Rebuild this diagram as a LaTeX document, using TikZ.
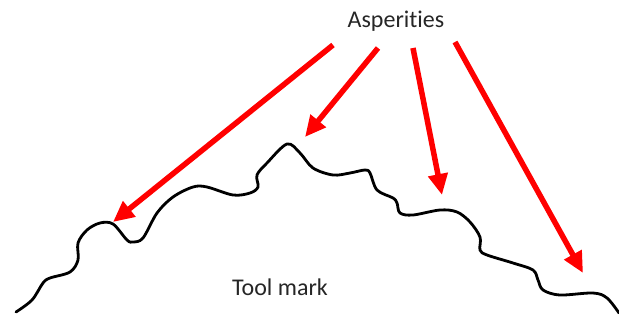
\documentclass[tikz,border=0pt]{standalone}
\usepackage{fontspec}
\setmainfont[Ligatures={NoCommon}]{Carlito}
\usepackage{tikz}
\usetikzlibrary{arrows.meta}
\definecolor{okKirmizi}{HTML}{FF0000}

\begin{document}
\begin{tikzpicture}[x=1pt,y=-1pt,
  pointer/.style={okKirmizi,line width=5.5pt,-{Triangle[length=21pt,width=19pt]}},
  profile/.style={black,line width=2.8pt,line cap=round,line join=round},
  lbltext/.style={font=\fontsize{24}{28}\selectfont,text=black!85}]
\useasboundingbox (0,0) rectangle (619,327);
% tool mark surface
\draw[profile] plot[smooth,tension=0.55] coordinates {
  (16,312) (32,300) (43,283) (50,278) (70,272) (78,260) (78,243) (87,230)
  (100,223) (113,224) (127,240) (133,242) (143,238) (157,213) (173,197)
  (193,187) (207,187) (233,195) (250,193) (258,187) (257,175) (267,163)
  (287,144) (300,153) (313,168) (333,175) (350,173) (365,170) (370,173)
  (377,190) (393,198) (397,203) (400,213) (413,215) (440,210) (457,212)
  (470,222) (480,237) (480,250) (487,255) (513,263) (533,270) (538,280)
  (543,290) (560,295) (593,293) (607,298) (619,313)};
\node[lbltext] (lbl) at (396,21) {Asperities};
\node[lbltext] (tm) at (280,287) {Tool mark};
% arrow ends
\coordinate (s1) at (333,45);
\coordinate (s2) at (378,48);
\coordinate (s3) at (413,48);
\coordinate (s4) at (455,42);
\coordinate (p1) at (113,222);
\coordinate (p2) at (305,137);
\coordinate (p3) at (442,195);
\coordinate (p4) at (583,273);
\foreach \i in {1,...,4}
  \draw[pointer] (s\i) -- (p\i);
\end{tikzpicture}
\end{document}
